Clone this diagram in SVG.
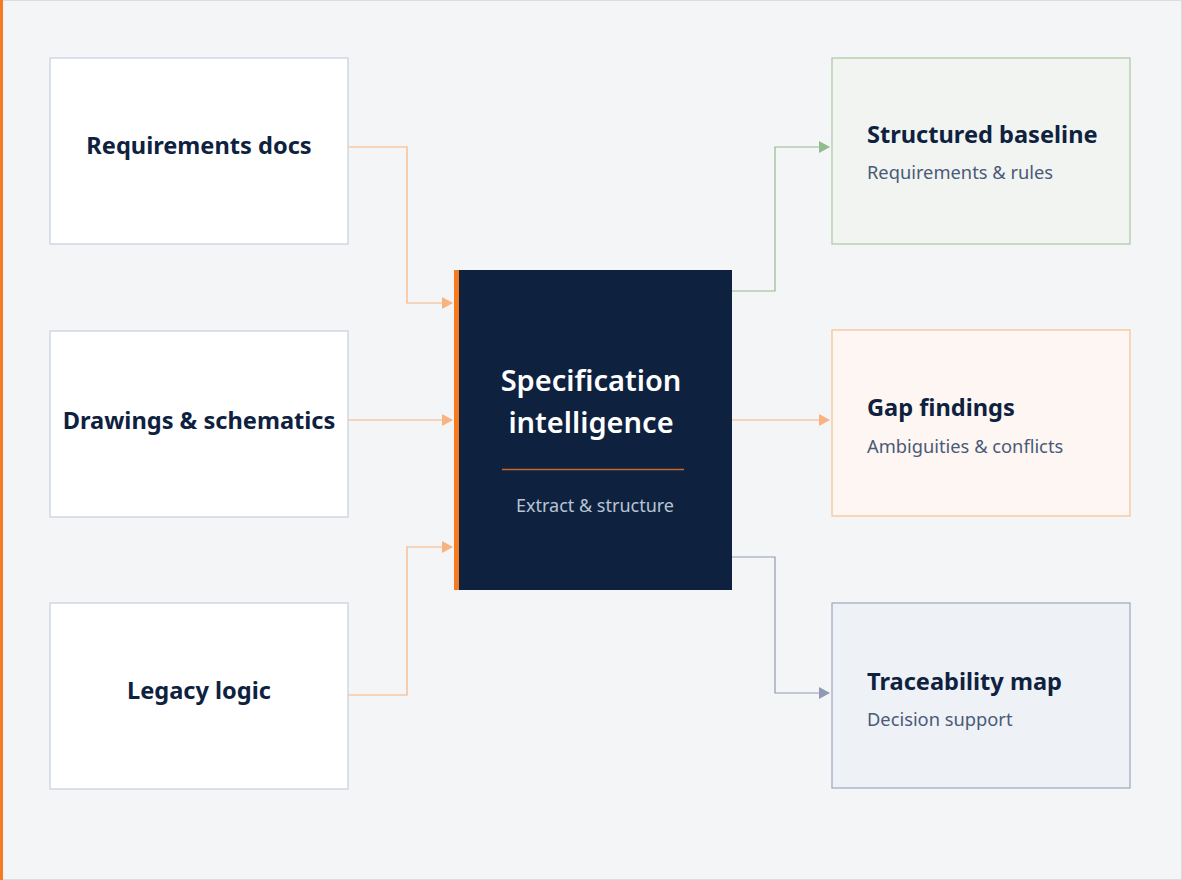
<svg xmlns="http://www.w3.org/2000/svg" width="1182" height="880" viewBox="0 0 1182 880">
<defs>
<style>
.title{font-family:"Noto Sans","Open Sans",sans-serif;font-weight:700;fill:#0e2240;font-size:23.6px}
.sub{font-family:"Noto Sans","Open Sans",sans-serif;font-weight:400;fill:#4a5a78;font-size:18.3px}
.ctitle{font-family:"Noto Sans","Open Sans",sans-serif;font-weight:600;fill:#ffffff;font-size:29px}
.csub{font-family:"Noto Sans","Open Sans",sans-serif;font-weight:400;fill:#b8c4d4;font-size:18px}
.in{fill:#ffffff;stroke:#c5cfe0;stroke-width:1.2}
.c{fill:none;stroke-width:1.2}
</style>
<marker id="ao" markerWidth="12" markerHeight="12" refX="10" refY="6" orient="auto" markerUnits="userSpaceOnUse"><path d="M0,0 L11,6 L0,12 z" fill="#f8b380"/></marker>
<marker id="ag" markerWidth="12" markerHeight="12" refX="10" refY="6" orient="auto" markerUnits="userSpaceOnUse"><path d="M0,0 L11,6 L0,12 z" fill="#94bb8c"/></marker>
<marker id="ab" markerWidth="12" markerHeight="12" refX="10" refY="6" orient="auto" markerUnits="userSpaceOnUse"><path d="M0,0 L11,6 L0,12 z" fill="#8f9bb2"/></marker>
</defs>
<rect x="0" y="0" width="1182" height="880" fill="#f4f5f6"/>
<rect x="0.5" y="0.5" width="1181" height="879" fill="none" stroke="#dcdcdc"/>
<rect x="0" y="0" width="3" height="880" fill="#f47b20"/>
<g id="connectors">
<path class="c" stroke="#f8b380" d="M348,147 H407 V303 H452" marker-end="url(#ao)"/>
<path class="c" stroke="#f8b380" d="M348,420 H452" marker-end="url(#ao)"/>
<path class="c" stroke="#f8b380" d="M348,695 H407 V547 H452" marker-end="url(#ao)"/>
<path class="c" stroke="#94bb8c" d="M732,291 H775 V147 H829" marker-end="url(#ag)"/>
<path class="c" stroke="#f8b380" d="M732,420 H829" marker-end="url(#ao)"/>
<path class="c" stroke="#8f9bb2" d="M732,557 H775 V693 H829" marker-end="url(#ab)"/>
</g>
<g id="req">
<rect class="in" x="50" y="58" width="298" height="186"/>
<text class="title" x="199" y="154" text-anchor="middle">Requirements docs</text>
</g>
<g id="draw">
<rect class="in" x="50" y="331" width="298" height="186"/>
<text class="title" x="199" y="429" text-anchor="middle">Drawings &amp; schematics</text>
</g>
<g id="legacy">
<rect class="in" x="50" y="603" width="298" height="186"/>
<text class="title" x="199" y="699" text-anchor="middle">Legacy logic</text>
</g>
<g id="spec">
<rect x="454" y="270" width="278" height="320" fill="#0e2240"/>
<rect x="454" y="270" width="5" height="320" fill="#f47b20"/>
<text class="ctitle" x="591" y="391" text-anchor="middle">Specification</text>
<text class="ctitle" x="591" y="433" text-anchor="middle">intelligence</text>
<line x1="502" y1="469.5" x2="684" y2="469.5" stroke="#c8642a" stroke-width="1.5"/>
<text class="csub" x="595" y="512" text-anchor="middle">Extract &amp; structure</text>
</g>
<g id="baseline">
<rect x="832" y="58" width="298" height="186" fill="#f1f4f1" stroke="#a8c8a0" stroke-width="1.2"/>
<text class="title" x="867" y="143">Structured baseline</text>
<text class="sub" x="867" y="179">Requirements &amp; rules</text>
</g>
<g id="gap">
<rect x="832" y="330" width="298" height="186" fill="#fdf6f2" stroke="#f8c090" stroke-width="1.2"/>
<text class="title" x="867" y="416">Gap findings</text>
<text class="sub" x="867" y="453">Ambiguities &amp; conflicts</text>
</g>
<g id="trace">
<rect x="832" y="603" width="298" height="185" fill="#eef1f5" stroke="#9aa8c0" stroke-width="1.2"/>
<text class="title" x="867" y="690">Traceability map</text>
<text class="sub" x="867" y="726">Decision support</text>
</g>
</svg>
